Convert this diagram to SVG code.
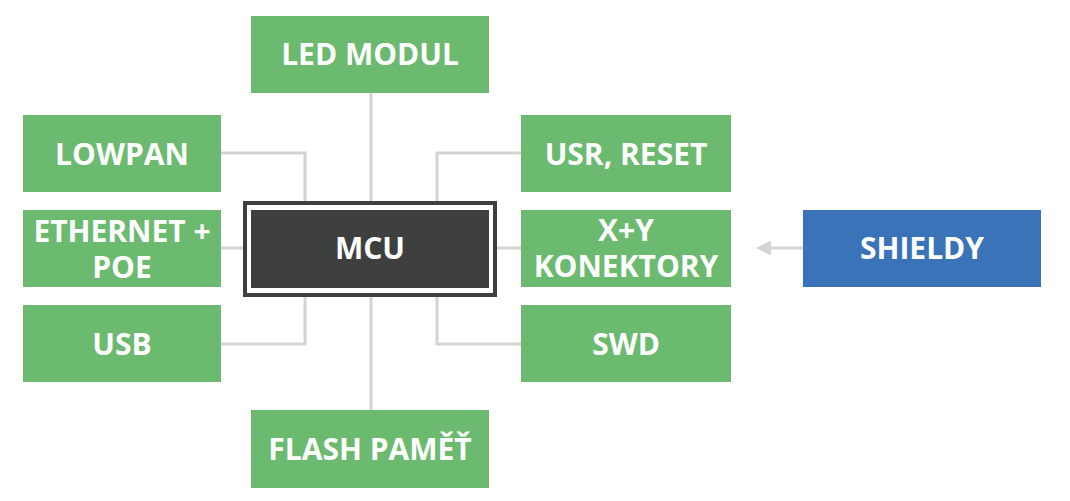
<svg xmlns="http://www.w3.org/2000/svg" width="1070" height="501" viewBox="0 0 1070 501">
<style>
.g{fill:#6bba70}
.t{font-family:"Open Sans","Liberation Sans",sans-serif;font-weight:bold;font-size:30px;fill:#fff;text-anchor:middle}
.c{fill:none;stroke:#d4d4d4;stroke-width:3}
</style>
<rect width="1070" height="501" fill="#fff"/>
<g id="connectors">
<path class="c" d="M371,93 V203"/>
<path class="c" d="M371,295 V410"/>
<path class="c" d="M221,153 H305 V203"/>
<path class="c" d="M521,153 H437 V203"/>
<path class="c" d="M221,248 H245"/>
<path class="c" d="M495,248 H521"/>
<path class="c" d="M221,344 H305 V295"/>
<path class="c" d="M521,344 H437 V295"/>
<path class="c" d="M803,248 H768"/>
<polygon points="756,248 771,240.5 771,255.5" fill="#d4d4d4"/>
</g>
<g id="led"><rect class="g" x="251" y="16" width="238" height="77"/><text class="t" x="370" y="65">LED MODUL</text></g>
<g id="lowpan"><rect class="g" x="23" y="115" width="198" height="77"/><text class="t" x="122" y="165">LOWPAN</text></g>
<g id="ethernet"><rect class="g" x="23" y="210" width="198" height="77"/><text class="t"><tspan x="122" y="242">ETHERNET +</tspan><tspan x="122" y="278">POE</tspan></text></g>
<g id="usb"><rect class="g" x="23" y="305" width="198" height="77"/><text class="t" x="122" y="355">USB</text></g>
<g id="usr"><rect class="g" x="521" y="115" width="210" height="77"/><text class="t" x="626" y="165">USR, RESET</text></g>
<g id="xy"><rect class="g" x="521" y="210" width="210" height="77"/><text class="t"><tspan x="626" y="241">X+Y</tspan><tspan x="626" y="277">KONEKTORY</tspan></text></g>
<g id="swd"><rect class="g" x="521" y="305" width="210" height="77"/><text class="t" x="626" y="355">SWD</text></g>
<g id="flash"><rect class="g" x="251" y="410" width="238" height="78"/><text class="t" x="370" y="460">FLASH PAMĚŤ</text></g>
<g id="mcu"><rect x="245" y="203" width="250" height="92" fill="none" stroke="#3e3f3f" stroke-width="4"/><rect x="251" y="210" width="238" height="78" fill="#3e3f3f"/><text class="t" x="370" y="259">MCU</text></g>
<g id="shieldy"><rect x="803" y="210" width="238" height="77" fill="#3b73b8"/><text class="t" x="922" y="259">SHIELDY</text></g>
</svg>
